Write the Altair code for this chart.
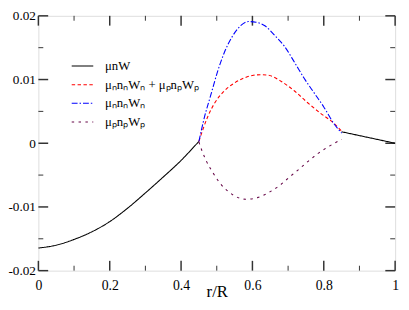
import altair as alt
import pandas as pd

# ---- data ----
SERIES = ["μnW", "μₙnₙWₙ + μₚnₚWₚ", "μₙnₙWₙ", "μₚnₚWₚ"]

black_r1 = [0.0, 0.05, 0.1, 0.15, 0.2, 0.25, 0.3, 0.35, 0.4, 0.45]
black_y1 = [-0.01645, -0.0160, -0.0151, -0.0139, -0.0123, -0.0102, -0.0078, -0.0053, -0.0027, 0.0003]
black_r2 = [0.85, 1.0]
black_y2 = [0.0018, 0.0]

blue_r = [0.45, 0.466, 0.484, 0.502, 0.521, 0.543, 0.566, 0.589, 0.61, 0.636, 0.663,
          0.69, 0.718, 0.745, 0.773, 0.8, 0.827, 0.85]
blue_y = [0.0003, 0.0042, 0.0077, 0.0112, 0.0142, 0.0167, 0.0184, 0.0191, 0.0190, 0.0184,
          0.0169, 0.0152, 0.0127, 0.0102, 0.0079, 0.0057, 0.0032, 0.0016]

red_r = [0.45, 0.475, 0.493, 0.521, 0.548, 0.575, 0.603, 0.625, 0.645, 0.681, 0.718,
         0.754, 0.791, 0.827, 0.85]
red_y = [0.0003, 0.0042, 0.0062, 0.0082, 0.0094, 0.0102, 0.01067, 0.01076, 0.01067,
         0.0097, 0.0082, 0.0064, 0.0047, 0.0032, 0.0019]

purple_r = [0.45, 0.458, 0.471, 0.489, 0.508, 0.533, 0.563, 0.581, 0.616, 0.647, 0.677,
            0.704, 0.73, 0.757, 0.784, 0.814, 0.85]
purple_y = [0.0002, -0.0011, -0.0028, -0.0046, -0.0062, -0.0076, -0.0086, -0.0088, -0.0085,
            -0.0077, -0.0066, -0.0053, -0.0041, -0.0028, -0.0016, -0.0005, 0.0006]

x_major = [0, 0.2, 0.4, 0.6, 0.8, 1.0]
x_minor = [0.1, 0.3, 0.5, 0.7, 0.9]
y_major = [-0.02, -0.01, 0.0, 0.01, 0.02]
y_minor = [-0.015, -0.005, 0.005, 0.015]

# ---- build table ----
rows = []
def add(rs, ys, s, seg):
    for r, y in zip(rs, ys):
        rows.append({"r": r, "y": y, "series": s, "seg": seg})

add(black_r1, black_y1, SERIES[0], "a")
add(black_r2, black_y2, SERIES[0], "b")
add(red_r, red_y, SERIES[1], "c")
add(blue_r, blue_y, SERIES[2], "d")
add(purple_r, purple_y, SERIES[3], "e")
df = pd.DataFrame(rows)

W, H = 364, 260
FONT = "Liberation Serif"

xscale = alt.Scale(domain=[0, 1], nice=False, zero=False)
yscale = alt.Scale(domain=[-0.02, 0.02], nice=False, zero=False)

xaxis = alt.Axis(values=x_major, ticks=False, domain=False, grid=False,
                 labelExpr="replace(format(datum.value, '.1~f'), '\u2212', '-')",
                 labelFont=FONT, labelFontSize=14, labelColor="black",
                 labelPadding=8, labelFlush=False, labelOverlap=False,
                 title="r/R", titleFont=FONT, titleFontSize=17,
                 titleFontWeight="normal", titleColor="black",
                 titleBaseline="alphabetic", titleY=26)
yaxis = alt.Axis(values=y_major, ticks=False, domain=False, grid=False,
                 labelExpr="replace(format(datum.value, '.2~f'), '\u2212', '-')",
                 labelFont=FONT, labelFontSize=13.5, labelColor="black",
                 labelPadding=3, labelFlush=False, labelOverlap=False,
                 labelBaseline="middle", title=None)

legend = alt.Legend(orient="none", legendX=33, legendY=42, title=None,
                    symbolType="stroke", symbolSize=484, clipHeight=18.5,
                    labelFont=FONT, labelFontSize=13, labelColor="black",
                    labelOffset=11, padding=0, rowPadding=0)

lines = alt.Chart(df).mark_line(interpolate="monotone").encode(
    x=alt.X("r:Q", scale=xscale, axis=xaxis),
    y=alt.Y("y:Q", scale=yscale, axis=yaxis),
    color=alt.Color("series:N", scale=alt.Scale(domain=SERIES,
                    range=["black", "#ff0000", "#0000ff", "#670748"]), legend=legend),
    strokeDash=alt.StrokeDash("series:N", scale=alt.Scale(domain=SERIES,
                    range=[[1, 0], [3.5, 2.5], [6, 2, 1.5, 2], [2.5, 4.5]]), legend=legend),
    strokeWidth=alt.StrokeWidth("series:N", scale=alt.Scale(domain=SERIES,
                    range=[1.1, 1.1, 1.1, 2.5]), legend=legend),
    detail="seg:N",
)

def xticks(vals, length, sw):
    d = pd.DataFrame({"v": vals})
    base = alt.Chart(d).mark_rule(color="#333333", strokeWidth=sw)
    bot = base.encode(x=alt.X("v:Q", scale=xscale, axis=xaxis),
                      y=alt.value(H), y2=alt.value(H - length))
    top = base.encode(x=alt.X("v:Q", scale=xscale, axis=xaxis),
                      y=alt.value(0), y2=alt.value(length))
    return [bot, top]

def yticks(vals, length, sw):
    d = pd.DataFrame({"v": vals})
    base = alt.Chart(d).mark_rule(color="#333333", strokeWidth=sw)
    left = base.encode(y=alt.Y("v:Q", scale=yscale, axis=yaxis),
                       x=alt.value(0), x2=alt.value(length))
    right = base.encode(y=alt.Y("v:Q", scale=yscale, axis=yaxis),
                        x=alt.value(W), x2=alt.value(W - length))
    return [left, right]

layers = (xticks(x_major, 10, 1.5) + xticks(x_minor, 5, 1.0)
          + yticks(y_major, 10, 1.5) + yticks(y_minor, 5, 1.0) + [lines])

chart = alt.layer(*layers).properties(
    width=W, height=H,
    autosize=alt.AutoSizeParams(type="none"),
    padding={"left": 31, "top": 5, "right": 6, "bottom": 29},
).configure_view(stroke="black", strokeWidth=1.5).configure(background="white")

chart.save("out.html", embed_options={"renderer": "svg", "actions": False})
